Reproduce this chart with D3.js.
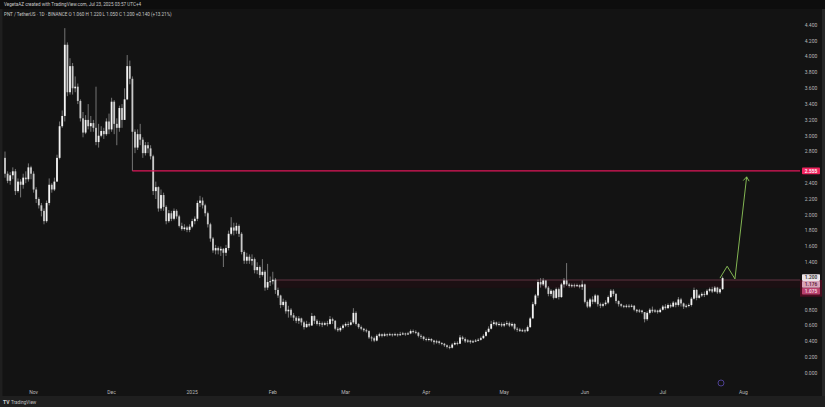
<!DOCTYPE html>
<html><head><meta charset="utf-8">
<script src="https://cdn.jsdelivr.net/npm/d3@7/dist/d3.min.js"></script>
<style>html,body{margin:0;padding:0;background:#131313;overflow:hidden}</style>
</head><body><svg id="c" width="825" height="407"></svg>
<script>
// ---- data (daily candles, PNT / TetherUS, Binance) ----
const startDate = "2024-10-21";
const firstOpen = 2.72;
const closes = [2.52,2.43,2.50,2.55,2.30,2.42,2.38,2.47,2.45,2.60,2.52,2.32,2.20,2.12,2.05,1.92,2.15,2.38,2.32,2.42,
2.72,3.12,3.25,4.15,3.55,3.88,3.60,3.62,3.44,3.22,3.04,3.20,3.12,3.16,3.10,2.92,3.00,3.06,3.02,3.18,
3.08,3.43,3.15,3.10,3.35,3.20,3.46,3.88,3.72,3.05,2.85,3.02,2.95,2.78,2.88,2.84,2.74,2.30,2.35,2.08,
2.25,2.10,1.92,2.02,1.95,2.05,1.98,1.86,1.82,1.84,1.81,1.85,1.92,1.95,2.15,2.18,2.12,2.02,1.88,1.70,
1.55,1.58,1.55,1.57,1.52,1.58,1.76,1.84,1.80,1.86,1.76,1.53,1.42,1.47,1.42,1.44,1.30,1.34,1.24,1.28,
1.08,1.15,1.16,1.18,1.05,0.98,0.86,0.90,0.78,0.80,0.73,0.70,0.66,0.69,0.64,0.58,0.62,0.60,0.72,0.66,
0.62,0.63,0.61,0.63,0.62,0.68,0.66,0.56,0.54,0.57,0.60,0.62,0.61,0.64,0.76,0.62,0.58,0.56,0.54,0.53,
0.45,0.44,0.41,0.47,0.49,0.47,0.49,0.48,0.49,0.48,0.49,0.48,0.49,0.50,0.49,0.50,0.53,0.52,0.51,0.47,
0.46,0.43,0.42,0.43,0.41,0.39,0.40,0.38,0.37,0.35,0.33,0.32,0.36,0.38,0.37,0.45,0.43,0.40,0.41,0.39,
0.40,0.41,0.42,0.44,0.47,0.52,0.56,0.62,0.64,0.61,0.62,0.60,0.62,0.63,0.60,0.62,0.56,0.55,0.53,0.54,
0.53,0.58,0.69,0.87,0.98,1.15,1.12,1.17,1.08,1.00,1.04,0.95,1.06,0.96,1.12,1.17,1.12,1.10,1.11,1.10,
1.11,1.09,1.12,0.90,0.84,0.93,0.90,0.98,0.87,0.85,0.87,0.89,0.96,1.04,1.00,0.91,0.87,0.85,0.84,0.85,
0.84,0.85,0.80,0.78,0.79,0.77,0.68,0.76,0.80,0.78,0.79,0.77,0.80,0.84,0.82,0.86,0.84,0.89,0.86,0.93,
0.88,0.84,0.85,0.86,0.94,1.05,0.95,0.98,1.00,0.99,1.04,1.06,1.03,1.08,1.02,1.06,1.20];
const highs = [2.80,2.55,2.54,2.60,2.58,2.46,2.45,2.52,2.55,2.65,2.62,2.55,2.35,2.22,2.15,2.08,2.18,2.46,2.40,2.47,
2.76,3.18,3.32,4.36,4.18,3.98,3.92,3.75,3.66,3.46,3.30,3.26,3.40,3.25,3.20,3.62,3.15,3.12,3.10,3.22,
3.28,3.48,3.45,3.22,3.38,3.40,3.60,4.02,3.95,3.75,3.08,3.08,3.15,2.98,2.92,2.92,2.88,2.76,2.42,2.36,
2.32,2.28,2.12,2.06,2.05,2.08,2.07,2.00,1.90,1.88,1.86,1.88,1.95,1.98,2.18,2.24,2.22,2.14,2.04,1.90,
1.72,1.62,1.60,1.60,1.58,1.62,1.80,1.97,1.90,1.90,1.88,1.78,1.55,1.52,1.50,1.50,1.46,1.40,1.36,1.44,
1.30,1.38,1.22,1.28,1.20,1.08,0.99,0.94,0.92,0.85,0.82,0.76,0.72,0.72,0.70,0.66,0.66,0.64,0.76,0.73,
0.68,0.66,0.65,0.65,0.66,0.72,0.70,0.67,0.58,0.59,0.62,0.64,0.65,0.67,0.82,0.78,0.63,0.60,0.57,0.56,
0.54,0.47,0.46,0.49,0.51,0.50,0.51,0.50,0.51,0.50,0.51,0.50,0.52,0.52,0.51,0.52,0.55,0.55,0.54,0.52,
0.49,0.47,0.45,0.45,0.44,0.42,0.42,0.41,0.39,0.38,0.36,0.35,0.38,0.40,0.40,0.48,0.47,0.45,0.43,0.42,
0.42,0.43,0.44,0.46,0.49,0.54,0.59,0.66,0.67,0.65,0.65,0.64,0.64,0.66,0.65,0.64,0.63,0.58,0.57,0.56,
0.56,0.60,0.71,0.90,1.00,1.18,1.20,1.20,1.17,1.10,1.06,1.05,1.08,1.08,1.14,1.20,1.39,1.14,1.13,1.13,
1.13,1.12,1.17,1.13,0.92,0.95,0.97,1.00,0.99,0.89,0.89,0.92,0.98,1.06,1.06,1.01,0.92,0.88,0.86,0.87,
0.87,0.87,0.86,0.81,0.81,0.80,0.77,0.78,0.82,0.84,0.81,0.80,0.82,0.86,0.87,0.88,0.88,0.91,0.90,0.96,
0.95,0.89,0.87,0.88,0.96,1.08,1.06,1.00,1.02,1.03,1.06,1.08,1.09,1.10,1.09,1.08,1.22];
const lows = [2.47,2.40,2.38,2.45,2.25,2.28,2.22,2.33,2.40,2.42,2.45,2.28,2.15,2.08,1.98,1.88,1.90,2.12,2.28,2.30,
2.42,2.70,3.10,3.18,3.50,3.52,3.52,3.55,3.40,3.18,2.98,3.02,3.08,3.05,3.05,2.88,2.85,2.98,2.96,3.00,
3.02,3.05,3.02,2.88,3.05,3.10,3.20,3.45,3.65,2.555,2.78,2.82,2.88,2.72,2.75,2.78,2.70,2.25,2.20,2.04,
2.05,2.05,1.88,1.90,1.92,1.93,1.95,1.84,1.80,1.80,1.78,1.78,1.83,1.88,1.92,2.10,2.08,1.98,1.84,1.66,
1.52,1.50,1.50,1.48,1.34,1.48,1.55,1.74,1.74,1.76,1.72,1.50,1.38,1.38,1.38,1.36,1.26,1.25,1.20,1.22,
1.04,1.05,1.10,1.12,1.00,0.95,0.82,0.84,0.75,0.70,0.70,0.66,0.63,0.62,0.60,0.55,0.57,0.58,0.60,0.62,
0.60,0.59,0.58,0.60,0.59,0.61,0.62,0.54,0.52,0.52,0.55,0.58,0.58,0.60,0.62,0.60,0.56,0.54,0.52,0.51,
0.43,0.40,0.39,0.40,0.45,0.45,0.46,0.46,0.47,0.46,0.47,0.46,0.47,0.48,0.47,0.48,0.49,0.50,0.49,0.45,
0.43,0.41,0.40,0.40,0.39,0.36,0.37,0.36,0.35,0.33,0.31,0.30,0.31,0.35,0.35,0.37,0.41,0.38,0.38,0.37,
0.38,0.39,0.40,0.41,0.43,0.46,0.51,0.55,0.60,0.59,0.59,0.58,0.58,0.60,0.58,0.58,0.54,0.52,0.52,0.52,
0.51,0.52,0.57,0.69,0.85,0.95,1.08,1.10,1.06,0.97,0.97,0.93,0.94,0.93,0.95,1.08,1.10,1.08,1.08,1.08,
1.09,1.07,1.05,0.88,0.82,0.82,0.87,0.88,0.84,0.82,0.83,0.85,0.87,0.95,0.97,0.88,0.84,0.83,0.82,0.82,
0.82,0.83,0.78,0.76,0.76,0.75,0.64,0.66,0.74,0.76,0.76,0.75,0.76,0.79,0.80,0.81,0.82,0.83,0.83,0.84,
0.84,0.81,0.82,0.83,0.84,0.93,0.92,0.94,0.96,0.96,0.98,1.02,1.01,1.02,1.00,1.00,1.05];
const priceTickLabels = ["0.000","0.200","0.400","0.600","0.800","1.000","1.200","1.400","1.600","1.800","2.000",
  "2.200","2.400","2.600","2.800","3.000","3.200","3.400","3.600","3.800","4.000","4.200","4.400"];
const monthDates  = ["2024-11-01","2024-12-01","2025-01-01","2025-02-01","2025-03-01","2025-04-01","2025-05-01","2025-06-01","2025-07-01","2025-08-01"];
const monthLabels = ["Nov","Dec","2025","Feb","Mar","Apr","May","Jun","Jul","Aug"];
const resistanceUpper = {date:"2024-12-09", value:2.555};
const resistanceLower = {date:"2025-02-02", value:1.176, zoneBottom:1.075};
const zoneAxisBottom = 0.965;
const projectionDates  = ["2025-07-23T00:00","2025-07-25T18:00","2025-07-28T18:00","2025-08-02T06:00"];
const projectionValues = [1.20, 1.35, 1.19, 2.48];
const headerLine1 = "VegetaAZ created with TradingView.com, Jul 23, 2025 03:57 UTC+4";
const headerLine2 = "PNT / TetherUS · 1D · BINANCE  O 1.060  H 1.220  L 1.050  C 1.200  +0.140 (+13.21%)";

// ---- build ----
const parse = s => new Date(s.length > 10 ? s + ":00Z" : s + "T00:00:00Z");
const day = 86400000;
const t0 = parse(startDate);
const candles = closes.map((c, i) => ({
  date: new Date(t0.getTime() + i * day),
  open: i === 0 ? firstOpen : closes[i - 1],
  close: c, high: highs[i], low: lows[i]
}));

const svg = d3.select("#c");
const W = 825, H = 407;
const plotRight = 800;
const FONT = "Roboto, 'DejaVu Sans', sans-serif";
svg.append("rect").attr("width", W).attr("height", H).attr("fill", "#131313");

const x = d3.scaleUtc()
  .domain([parse("2024-10-21"), parse("2025-08-23")])
  .range([5, 5 + 306 * 2.6]);
const y = d3.scaleLinear().domain([0, 4.4]).range([373, 25]);

// zone (lower resistance)
const zx0 = x(parse(resistanceLower.date));
svg.append("rect").attr("x", zx0).attr("y", y(resistanceLower.value))
  .attr("width", plotRight - zx0).attr("height", y(resistanceLower.zoneBottom) - y(resistanceLower.value))
  .attr("fill", "#1c1013");
svg.append("line").attr("x1", zx0).attr("x2", plotRight)
  .attr("y1", y(resistanceLower.value)).attr("y2", y(resistanceLower.value))
  .style("stroke", "#6a3848").style("stroke-width", 0.9);

// candles
const g = svg.append("g");
const bw = 1.8;
g.selectAll("line.w").data(candles).join("line").attr("class", "w")
  .attr("x1", d => x(d.date)).attr("x2", d => x(d.date))
  .attr("y1", d => y(d.high)).attr("y2", d => y(d.low))
  .attr("stroke", "#8e8e8e").attr("stroke-width", 0.8);
g.selectAll("rect.b").data(candles).join("rect").attr("class", "b")
  .attr("x", d => x(d.date) - bw / 2).attr("width", bw)
  .attr("y", d => y(Math.max(d.open, d.close)))
  .attr("height", d => Math.max(1, Math.abs(y(d.open) - y(d.close))))
  .attr("fill", d => d.close >= d.open ? "#f4f4f4" : "#c9c9c9");

// upper resistance (drawn above candles)
const ux0 = x(parse(resistanceUpper.date));
svg.append("line").attr("x1", ux0).attr("x2", plotRight)
  .attr("y1", y(resistanceUpper.value)).attr("y2", y(resistanceUpper.value))
  .style("stroke", "#e0175a").style("stroke-width", 1.3);

// projection arrow
const proj = projectionDates.map((d, i) => [x(parse(d)), y(projectionValues[i])]);
svg.append("path").attr("d", d3.line()(proj)).attr("fill", "none")
  .attr("stroke", "#8fc75a").attr("stroke-width", 0.9);
const [ax, ay] = proj[proj.length - 1];
const [bx, by] = proj[proj.length - 2];
const ang = Math.atan2(ay - by, ax - bx);
const ah = 5;
svg.append("path")
  .attr("d", `M${ax + ah * Math.cos(ang + Math.PI * 0.8)},${ay + ah * Math.sin(ang + Math.PI * 0.8)}L${ax},${ay}L${ax + ah * Math.cos(ang - Math.PI * 0.8)},${ay + ah * Math.sin(ang - Math.PI * 0.8)}`)
  .attr("fill", "none").attr("stroke", "#8fc75a").attr("stroke-width", 0.9);

// right price axis
const axisG = svg.append("g");
axisG.append("rect").attr("x", plotRight).attr("y", y(resistanceLower.value))
  .attr("width", 22).attr("height", y(zoneAxisBottom) - y(resistanceLower.value)).attr("fill", "#4a0d20");
const lastClose = closes[closes.length - 1];
const hidden = [resistanceUpper.value, lastClose, resistanceLower.value, resistanceLower.zoneBottom];
priceTickLabels.forEach(lbl => {
  const v = +lbl;
  if (hidden.some(h => Math.abs(y(h) - y(v)) < 6)) return;
  axisG.append("text").attr("x", 811).attr("y", y(v) + 1.8).attr("text-anchor", "middle")
    .attr("font-family", FONT).attr("font-size", 5)
    .attr("fill", "#b8b8b8").text(lbl);
});
function priceLabel(cy, fill, color, txt) {
  axisG.append("rect").attr("x", 802).attr("y", cy - 3.3).attr("width", 18).attr("height", 6.6)
    .attr("fill", fill).attr("rx", 0.8);
  axisG.append("text").attr("x", 811).attr("y", cy + 1.7).attr("text-anchor", "middle")
    .attr("font-family", FONT).attr("font-size", 4.8).attr("font-weight", 600)
    .attr("fill", color).text(txt);
}
priceLabel(y(resistanceUpper.value), "#f0245f", "#ffffff", resistanceUpper.value.toFixed(3));
const stackTop = y(lastClose) - 0.5;
priceLabel(stackTop, "#ece4e8", "#333333", lastClose.toFixed(3));
priceLabel(stackTop + 6.8, "#d9a3b9", "#5a2036", resistanceLower.value.toFixed(3));
priceLabel(stackTop + 13.6, "#b8406c", "#f3d7e2", resistanceLower.zoneBottom.toFixed(3));

// time axis
monthDates.forEach((d, i) => {
  svg.append("text").attr("x", x(parse(d))).attr("y", 394).attr("text-anchor", "middle")
    .attr("font-family", FONT).attr("font-size", 5)
    .attr("fill", "#b8b8b8").text(monthLabels[i]);
});
// events icon
svg.append("circle").attr("cx", 721).attr("cy", 383).attr("r", 3).attr("fill", "none")
  .attr("stroke", "#5a4bb0").attr("stroke-width", 0.8);

// frame
svg.append("rect").attr("x", 0).attr("y", 0).attr("width", 2.5).attr("height", H).attr("fill", "#1f1f1f");
svg.append("rect").attr("x", 822).attr("y", 0).attr("width", 3).attr("height", H).attr("fill", "#262626");
svg.append("rect").attr("x", 0).attr("y", 396).attr("width", W).attr("height", 11).attr("fill", "#1f1f1f");
svg.append("rect").attr("x", 0).attr("y", 0).attr("width", W).attr("height", 9).attr("fill", "#0d0d0d");

// header & footer text
svg.append("text").attr("x", 4).attr("y", 6).attr("font-family", FONT)
  .attr("font-size", 4.6).attr("fill", "#c8c8c8").text(headerLine1);
svg.append("text").attr("x", 4).attr("y", 16).attr("font-family", FONT)
  .attr("font-size", 4.6).attr("fill", "#c8c8c8").text(headerLine2);
svg.append("text").attr("x", 3).attr("y", 403.5).attr("font-family", FONT)
  .attr("font-size", 5).attr("font-weight", 700).attr("fill", "#d0d0d0").text("TV");
svg.append("text").attr("x", 11).attr("y", 403.5).attr("font-family", FONT)
  .attr("font-size", 4.6).attr("fill", "#c0c0c0").text("TradingView");
</script></body></html>
